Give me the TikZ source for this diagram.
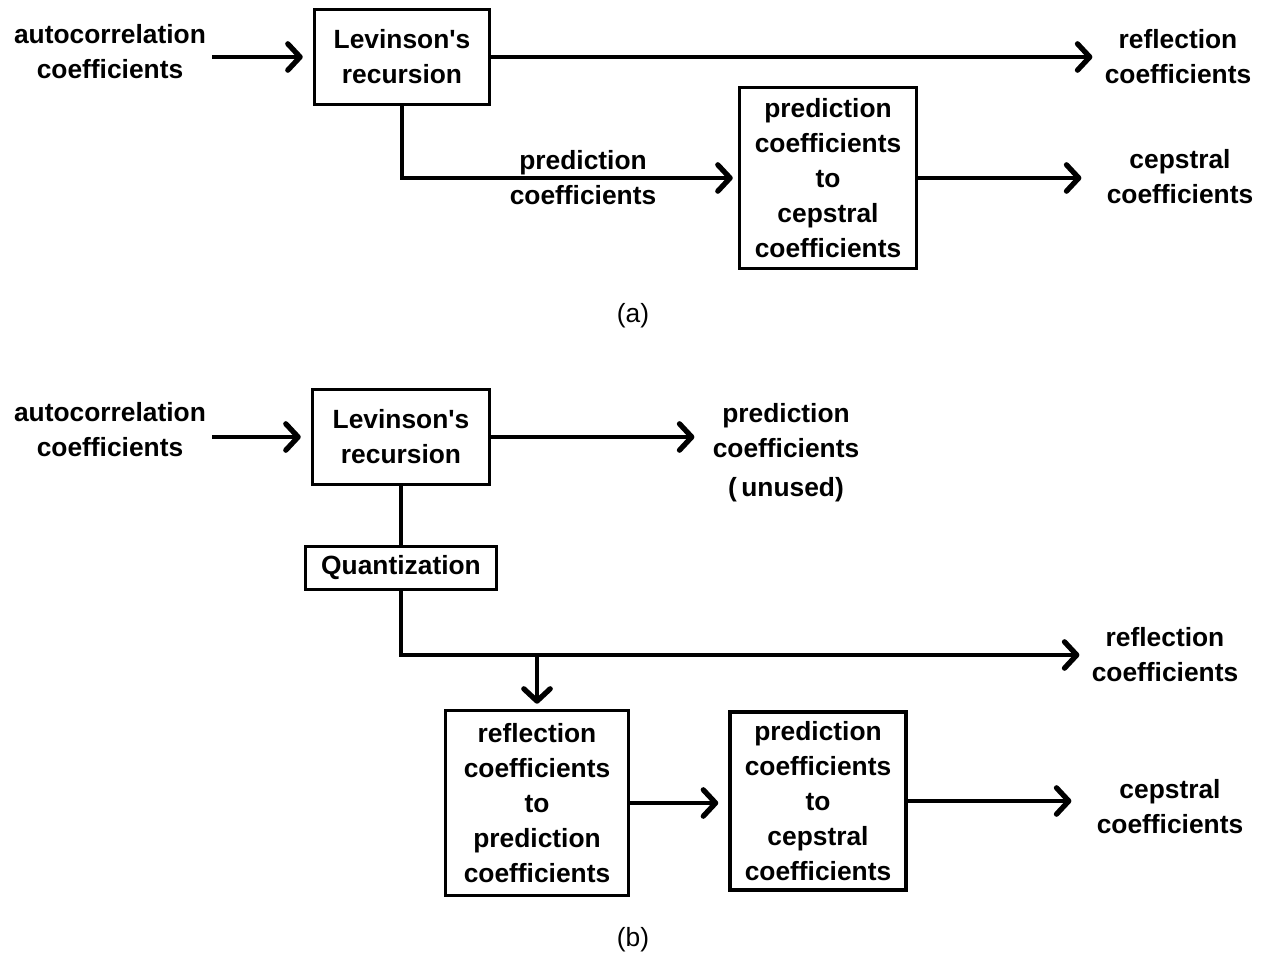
\documentclass[tikz,border=0pt]{standalone}
\usepackage{fontspec}
\setmainfont{Liberation Sans}
\usetikzlibrary{arrows.meta,calc}
\begin{document}
\begin{tikzpicture}[x=0.02cm,y=-0.02cm,
  every node/.style={font=\bfseries\fontsize{15pt}{20pt}\selectfont, align=center, inner sep=0pt},
  blk/.style={draw, line width=2pt},
  lbl/.style={},
  captxt/.style={font=\fontsize{15pt}{20pt}\selectfont},
  ln/.style={line width=2pt},
  arr/.style={line width=2pt, -{Straight Barb[length=7pt,width=15pt,line width=3pt,round]}},
]
\useasboundingbox (0,0) rectangle (1261,955);
% ---------- (a)
\node[lbl] (auto1) at (110,52) {autocorrelation\\coefficients};
\node[blk, minimum width=175*0.02cm, minimum height=95*0.02cm] (lev1) at (402,57) {Levinson\textquotesingle s\\recursion};
\node[lbl] (refl1) at (1178,57) {reflection\\coefficients};
\node[blk, minimum width=177*0.02cm, minimum height=181*0.02cm] (p2c1) at (828,178) {prediction\\coefficients\\to\\cepstral\\coefficients};
\node[lbl] (pc1) at (583,178) {prediction\\coefficients};
\node[lbl] (ceps1) at (1180,177) {cepstral\\coefficients};
\node[captxt] (capa) at (633,316) {(a)};
\draw[arr, shorten >=10*0.02cm] ([xshift=6*0.02cm]auto1.east |- lev1.west) -- (lev1.west);
\draw[arr, shorten >=12*0.02cm] (lev1.east) -- (lev1.east -| refl1.west);
\draw[arr, shorten >=5*0.02cm] (lev1.south) |- (p2c1.west);
\draw[arr, shorten >=25*0.02cm] (p2c1.east) -- (p2c1.east -| ceps1.west);
% ---------- (b)
\node[lbl] (auto2) at (110,430) {autocorrelation\\coefficients};
\node[blk, minimum width=177*0.02cm, minimum height=95*0.02cm] (lev2) at (401,437) {Levinson\textquotesingle s\\recursion};
\node[lbl, anchor=north] (pcu) at (786,403) {prediction\\coefficients\\[2pt](\,unused)};
\node[blk, minimum width=191*0.02cm, minimum height=43*0.02cm] (quant) at (401,568) {Quantization};
\node[lbl] (refl2) at (1165,655) {reflection\\coefficients};
\node[blk, minimum width=183*0.02cm, minimum height=185*0.02cm] (r2p) at (537,803) {reflection\\coefficients\\to\\prediction\\coefficients};
\node[blk, minimum width=176*0.02cm, minimum height=178*0.02cm] (p2c2) at (818,801) {prediction\\coefficients\\to\\cepstral\\coefficients};
\node[lbl] (ceps2) at (1170,807) {cepstral\\coefficients};
\node[captxt] (capb) at (633,940) {(b)};
\coordinate (br) at (r2p.north |- refl2.west);
\draw[arr, shorten >=10*0.02cm] ([xshift=6*0.02cm]auto2.east |- lev2.west) -- (lev2.west);
\draw[arr, shorten >=18*0.02cm] (lev2.east) -- (lev2.east -| pcu.west);
\draw[ln] (lev2.south) -- (quant.north);
\draw[arr, shorten >=12*0.02cm] (quant.south) |- (refl2.west);
\draw[arr, shorten >=5*0.02cm] (br) -- (r2p.north);
\draw[arr, shorten >=10*0.02cm] (r2p.east) -- (p2c2.west |- r2p.east);
\draw[arr, shorten >=25*0.02cm] (p2c2.east) -- (p2c2.east -| ceps2.west);
\end{tikzpicture}
\end{document}
